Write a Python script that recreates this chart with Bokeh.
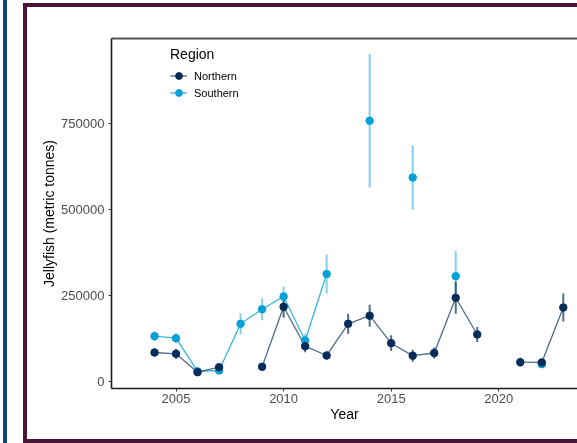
import numpy as np
from bokeh.plotting import figure
from bokeh.models import (ColumnDataSource, Range1d, FixedTicker, BasicTickFormatter,
                          LinearAxis, Legend, LegendItem, Div)
from bokeh.embed import file_html
from bokeh.resources import INLINE

nan = float("nan")

# ---- data ----
years = list(range(2004, 2024))
north = [85200, 81400, 27900, 42400, nan, 43600, 218000, 103500, 76500, 168600,
         192100, 112200, 75900, 83700, 244200, 137500, nan, 57000, 56100, 216000]
north_err = [11600, 14500, 8700, 8700, nan, 5800, 32000, 17400, 11600, 29000,
             32000, 23000, 17400, 16000, 46500, 21800, nan, 13000, 11600, 40700]
south = [132600, 126700, 30500, 32800, 168600, 211000, 248000, 120000, 313400, nan,
         758700, nan, 593900, nan, 307000, nan, nan, nan, 51200, nan]
south_err = [14500, 14500, 5800, 8700, 30500, 32000, 29000, 20000, 56700, nan,
             194000, nan, 92700, nan, 72700, nan, nan, nan, 8700, nan]

x_ticks = [2005, 2010, 2015, 2020]
y_ticks = [0, 250000, 500000, 750000]
regions = ["Northern", "Southern"]

NORTH_C = "#062c5a"
SOUTH_C = "#06a0d6"
FONT = "Liberation Sans"


def make_source(vals, errs):
    v = np.array(vals, dtype=float)
    e = np.array(errs, dtype=float)
    return ColumnDataSource(dict(x=np.array(years, dtype=float), y=v, lo=v - e, hi=v + e))


ns = make_source(north, north_err)
ss = make_source(south, south_err)

p = figure(width=550, height=432, output_backend="svg", toolbar_location=None,
           x_range=Range1d(2002.0, 2023.66), y_range=Range1d(-19500, 998000),
           min_border_left=84, min_border_top=31, min_border_bottom=51, min_border_right=0,
           x_axis_label="Year", y_axis_label="Jellyfish (metric tonnes)",
           styles={"position": "absolute", "left": "27px", "top": "7px"})
p.outline_line_color = None
p.xgrid.visible = False
p.ygrid.visible = False
p.background_fill_color = "white"
p.border_fill_color = "white"

# lines
sl = p.line("x", "y", source=ss, line_color=SOUTH_C, line_width=1.3, line_alpha=0.8)
nl = p.line("x", "y", source=ns, line_color=NORTH_C, line_width=1.3, line_alpha=0.7)
# error bars
p.segment("x", "lo", "x", "hi", source=ss, line_color=SOUTH_C, line_width=2, line_alpha=0.5)
p.segment("x", "lo", "x", "hi", source=ns, line_color=NORTH_C, line_width=2, line_alpha=0.7)
# points
sp = p.scatter("x", "y", source=ss, size=7.5, fill_color=SOUTH_C, line_color=SOUTH_C)
npt = p.scatter("x", "y", source=ns, size=7.5, fill_color=NORTH_C, line_color=NORTH_C)

# axes
for ax in (p.xaxis[0], p.yaxis[0]):
    ax.axis_line_color = "#1a1a1a"
    ax.axis_line_width = 1.6
    ax.major_tick_line_color = "#333333"
    ax.major_tick_out = 3
    ax.major_tick_in = 0
    ax.minor_tick_line_color = None
    ax.major_label_text_font = FONT
    ax.major_label_text_font_size = "13px"
    ax.major_label_text_color = "#4d4d4d"
    ax.axis_label_text_font = FONT
    ax.axis_label_text_font_size = "14px"
    ax.axis_label_text_font_style = "normal"
    ax.axis_label_text_color = "black"

p.xaxis[0].ticker = FixedTicker(ticks=x_ticks)
p.yaxis[0].ticker = FixedTicker(ticks=y_ticks)
p.yaxis[0].formatter = BasicTickFormatter(use_scientific=False)
p.xaxis[0].major_label_standoff = 2
p.yaxis[0].major_label_standoff = 4
p.xaxis[0].axis_label_standoff = 0
p.yaxis[0].axis_label_standoff = 1

top_axis = LinearAxis(ticker=FixedTicker(ticks=[]), axis_line_color="#555555",
                      axis_line_width=1.8, major_tick_line_color=None,
                      minor_tick_line_color=None, major_label_text_font_size="0px")
p.add_layout(top_axis, "above")

legend = Legend(items=[LegendItem(label=regions[0], renderers=[nl, npt]),
                       LegendItem(label=regions[1], renderers=[sl, sp])],
                location=(59, 287), title="Region",
                title_text_font=FONT, title_text_font_size="14px",
                title_text_font_style="normal", title_text_color="black",
                title_standoff=5,
                label_text_font=FONT, label_text_font_size="11px", label_text_color="black",
                glyph_width=17, glyph_height=17, label_height=17, label_standoff=7,
                spacing=0, padding=0, margin=0,
                background_fill_alpha=0, border_line_color=None)
p.add_layout(legend)

frame_html = (
    '<div style="position:fixed;left:3px;top:0px;width:4px;height:443px;'
    'background-color:#0f4677;"></div>'
    '<div style="position:fixed;left:23px;top:3px;width:554px;height:440px;'
    'box-sizing:border-box;border:4px solid #4b1535;border-right:none;"></div>'
)
deco = Div(text=frame_html, width=1, height=1)

open("out.html", "w").write(file_html([deco, p], INLINE))
